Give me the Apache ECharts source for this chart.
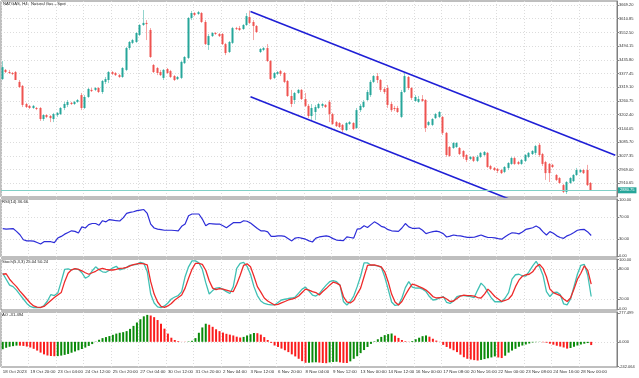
<!DOCTYPE html>
<html><head><meta charset="utf-8">
<script src="https://cdn.jsdelivr.net/npm/echarts@6/dist/echarts.min.js"></script>
<style>html,body{margin:0;padding:0;background:#fff}#c{width:639px;height:378px}</style>
</head><body><div id="c"></div>
<script>
const timeLabels = ["18 Oct 2023","19 Oct 20:00","23 Oct 04:00","24 Oct 12:00","25 Oct 20:00","27 Oct 04:00","30 Oct 12:00","31 Oct 20:00","2 Nov 04:00","3 Nov 12:00","6 Nov 20:00","8 Nov 04:00","9 Nov 12:00","13 Nov 00:00","14 Nov 12:00","16 Nov 00:00","17 Nov 08:00","20 Nov 16:00","22 Nov 00:00","23 Nov 08:00","24 Nov 16:00","28 Nov 00:00"];

const opens = [3354,3393,3384,3380,3384,3342,3325,3248,3240,3231,
3231,3231,3184,3201,3197,3184,3201,3205,3231,3244,
3253,3248,3257,3286,3231,3278,3308,3308,3316,3299,
3342,3350,3384,3380,3371,3363,3393,3486,3508,3512,
3542,3584,3593,3563,3414,3401,3384,3359,3397,3388,
3367,3354,3359,3422,3444,3614,3635,3631,3635,3597,
3499,3537,3550,3546,3546,3503,3469,3508,3571,3571,
3567,3584,3618,3597,3580,3469,3478,3486,3431,3359,
3376,3388,3380,3346,3282,3265,3295,3308,3269,3240,
3197,3214,3231,3240,3244,3257,3205,3171,3167,3159,
3137,3163,3167,3146,3222,3235,3265,3286,3342,3367,
3350,3312,3316,3248,3231,3231,3193,3299,3363,3316,
3261,3257,3269,3265,3159,3159,3188,3193,3193,3125,
3065,3061,3065,3061,3048,3031,3014,3023,3006,3023,
3031,3040,2984,2976,2972,2967,2959,2976,2993,3018,
3001,2993,3006,3023,3035,3040,3074,3035,3001,2993,
2989,2946,2933,2903,2874,2912,2920,2946,2959,2967,
2967,2912];
const closes = [3405,3384,3380,3376,3350,3320,3244,3235,3231,3240,
3227,3184,3201,3193,3188,3205,3210,3231,3248,3257,
3248,3257,3265,3231,3278,3312,3303,3316,3299,3346,
3354,3384,3376,3371,3363,3401,3486,3512,3520,3550,
3584,3593,3588,3448,3384,3380,3371,3393,3380,3363,
3350,3363,3427,3448,3614,3635,3627,3639,3597,3503,
3537,3550,3546,3537,3503,3465,3512,3571,3567,3563,
3584,3622,3593,3580,3554,3482,3486,3431,3354,3380,
3384,3376,3342,3282,3248,3295,3308,3269,3240,3197,
3231,3235,3248,3248,3235,3205,3163,3154,3150,3137,
3167,3171,3142,3222,3240,3257,3299,3342,3367,3350,
3308,3299,3244,3222,3227,3214,3299,3367,3316,3274,
3278,3269,3261,3146,3171,3184,3205,3214,3125,3031,
3027,3082,3082,3035,3023,3010,3023,3006,3023,3040,
3044,2980,2972,2967,2963,2954,2980,2997,3018,2993,
2993,3010,3031,3040,3048,3069,3031,2993,2954,2954,
2980,2925,2912,2874,2916,2933,2946,2967,2967,2954,
2903,2880.75];
const lows = [3350,3380,3376,3371,3350,3316,3235,3231,3227,3227,
3222,3176,3176,3188,3171,3171,3193,3201,3222,3235,
3244,3244,3253,3222,3227,3274,3299,3303,3295,3291,
3333,3337,3371,3367,3359,3359,3388,3478,3503,3508,
3537,3580,3520,3444,3380,3371,3367,3350,3376,3359,
3346,3350,3354,3418,3439,3605,3622,3627,3593,3499,
3478,3533,3542,3533,3499,3456,3465,3503,3563,3559,
3563,3580,3588,3520,3550,3465,3473,3427,3350,3354,
3371,3367,3337,3278,3235,3248,3291,3265,3235,3188,
3180,3180,3227,3231,3231,3171,3159,3150,3146,3129,
3133,3159,3137,3142,3214,3231,3261,3278,3337,3337,
3299,3291,3231,3214,3218,3210,3188,3295,3308,3265,
3257,3253,3257,3129,3154,3154,3184,3188,3116,3023,
3023,3057,3061,3031,3014,3001,3010,3001,3001,3018,
3027,2976,2967,2963,2954,2950,2954,2967,2989,2989,
2989,2989,3001,3018,3031,3031,3023,2984,2925,2916,
2976,2920,2908,2869,2865,2908,2916,2942,2954,2950,
2899,2878];
const highs = [3431,3397,3393,3384,3388,3350,3329,3253,3244,3244,
3235,3235,3205,3205,3201,3210,3214,3235,3257,3265,
3257,3261,3269,3295,3286,3316,3316,3320,3320,3350,
3363,3388,3388,3384,3376,3405,3491,3516,3525,3554,
3588,3648,3605,3571,3418,3405,3393,3397,3401,3393,
3371,3367,3431,3452,3618,3644,3639,3644,3639,3605,
3546,3554,3554,3550,3550,3508,3516,3576,3576,3580,
3588,3635,3644,3605,3584,3486,3491,3503,3435,3384,
3388,3393,3384,3350,3308,3299,3312,3312,3295,3248,
3248,3244,3253,3253,3248,3265,3210,3176,3171,3163,
3171,3176,3171,3231,3248,3265,3308,3350,3371,3380,
3354,3320,3329,3257,3240,3240,3308,3384,3367,3320,
3286,3282,3286,3269,3176,3188,3210,3218,3197,3129,
3069,3086,3086,3065,3052,3035,3027,3027,3031,3044,
3048,3044,2989,2980,2976,2972,2984,3001,3023,3023,
3006,3014,3035,3044,3052,3074,3082,3040,3006,2997,
2993,2950,2937,2908,2920,2937,2950,2976,2972,2972,
2989,2916];

const rsi = [49,48,48.5,49,44,38,29,27,27,26.5,
24,21.5,25.5,25.5,25.5,24,32,35,39,42,
45,44,41,52,50,56,58,58,55,63,
61,65,64,63,62.5,68,76,78,79,81,
82,83,76,57,50,48,47,46,46,46,
45.5,45,53,57,72,75,75,75,66,54,
58,57.5,57,57,54,50.5,55,59.5,59.5,59.5,
63,62,59,54,49,45,45,43,35,35,
36,36,35,31,27,32,33,31.6,30,27,
25,32,34,35,36,34.5,31,28.5,28,27.5,
34,33,32,48,49,54,51,56,61,57.5,
53,51,47,45,44.5,44,50,58,52,49.5,
49.5,50,46,40,42,43.5,44.5,43,40,34,
35.5,37.5,36.5,36,34.5,33.3,33.2,33.5,35.5,37.5,
35,33,33,32.5,31,30,34.5,38.5,41.5,41,
39.5,43,47.5,49,50.5,53.5,50,43,37.5,43.5,
40.5,36,33,31.6,36,38.5,42,46,47,47.5,
43,36.66];

const stochK = [72,60,48,45,38,29,20,11,5,2.5,
2.4,2.4,7,16,29,27,32,55,80,81,
78.6,81,80,73,62,66,77,85,79,75,
74,78,83,86,79,81,84,88,89,90,
94,92,75,30,12,4,2.4,6,12,20,
24,27,35,65,85,97,97,93,80,53,
30,37,42,43,39.5,35,31,45,82,92,
94,86,70,45,27,16,11,9,8,8,
13,18,19.5,21,22,24,32,40,44,36,
28,26,31,40,48,55,57,55,48,15,
8,15,26,45,66,93,93,88,88,87,
84,65,40,14,7,8,22,43,55,44,
42,42.5,40,35,25,18,19,22,25,13,
11,16,25,27,27,26,25,23,38,52,
45,33,22,14.5,14.5,14.5,22,33,60,69,
70,67,66,76,87,96,85,68,35,25,
33,34,29,10,8,20,45,70,88,90,
68,25.04];
const stochD = [70,71,60,52,45,36,28,20,12,6,
3.5,3.2,5,11,17,23,28,33,55,72,
79,81.5,80,77,73,70,73,76,80,82,
80,78.6,78.6,80,82,82.5,84,87,89.5,91,
92,91,89,55,30,14,5,3,6,11,
18,23,28,42,62,80,92,92,90,78,
57,42,39,41,40,38,36,35,50,68,
88,91,85,66,45,34,22,16,12,8,
9,12,15,18,20,22,26,33,40,38,
35,33,28,35,41,48,54,52,48,25,
14,12,17,30,42,65,88,89,88.7,87,
85,75,55,30,14,8,15,28,40,50,
48,45,42,38,32,25,22,23,24,20,
15,16,21,26,28,27,27,26,23,22,
30,40,33,25,20,15,17,20,28,45,
58,66,69,70,75,85,90,82,65,40,
33,30,27,20,15,22,40,60,72,87,
78,50.24];

const ao = [-72,-58,-48,-42,-37,-37.5,-40,-46,-55,-68,
-85,-105,-122,-133,-138,-140,-139,-134,-127,-118,
-106,-94,-82,-70,-56,-40,-22,3,20,36,
46,56,68,80,88,94,104,126,155,188,
220,248,262,256,240,212,176,128,80,40,
18,7,1,-2,4,10,36,88,140,176,
166,146,122,104,90,78,70,62,50,42,
48,62,74,86,84,70,46,18,-10,-36,
-50,-66,-82,-100,-122,-142,-165,-188,-204,-203,
-200,-199,-202,-206,-208,-200,-196,-194,-200,-205,
-206,-190,-165,-140,-110,-80,-50,-20,5,25,
48,65,75,81,60,38,18,6,2,8,
25,40,55,62,50,30,12,-2,-30,-50,
-66,-82,-100,-125,-150,-165,-172,-178,-182,-176,
-168,-160,-152,-142,-152,-158,-135,-105,-85,-68,
-48,-36,-26,-16,-6,-3,-2,-4,-8,-18,
-28,-38,-46,-55,-66,-60,-48,-36,-26,-18,
-12,-31.494];

const priceTicks = [3669.20,3610.85,3552.50,3494.15,3435.80,3377.45,3319.10,3260.75,3202.40,3144.05,3085.70,3027.35,2969.00,2910.65];
const rsiTicks = [100,70,30,0];
const rsiLevels = [70,30];
const stochTicks = [100,80,20,0];
const stochLevels = [80,20];
const aoTicks = [277.499,0,-242.064];
const aoLevels = [0];
const trendUpper = [[72,3642],[178,3030]];
const trendLower = [[72,3279],[178,2665]];

const LABEL_STEP = 8;
const EMPTY_SLOTS = 7;
const FONT = 'Liberation Sans';
const UP = '#26a69a', DN = '#ef5350', WICK_UP = '#93d5ce', WICK_DN = '#f5a5a4';
const GRIDC = '#dcdcdc', BORDER = '#7f7f7f';

const nBars = closes.length;
const categories = Array.from({length: nBars + EMPTY_SLOTS}, (_, i) => String(i));
const candleData = opens.map((o, i) => [i, o, closes[i], lows[i], highs[i]]);
const lastPrice = closes[nBars - 1];

const labelInterval = (idx) => idx % LABEL_STEP === 0 && (idx / LABEL_STEP) < timeLabels.length;

function xAxisFor(gi, showLabels) {
  return {
    type: 'category', gridIndex: gi, data: categories, boundaryGap: true,
    axisLine: {show: false}, axisTick: {show: false},
    axisLabel: showLabels ? {
      show: true, interval: labelInterval, align: 'left', margin: 3,
      fontSize: 4.4, color: '#333', fontFamily: FONT,
      formatter: (v, idx) => (idx % LABEL_STEP === 0 ? (timeLabels[idx / LABEL_STEP] || '') : '')
    } : {show: false},
    splitLine: {show: true, interval: labelInterval, lineStyle: {color: GRIDC, type: [1, 2], width: 1}}
  };
}
function yAxisFor(gi, min, max, ticks, digits) {
  return {
    type: 'value', gridIndex: gi, position: 'right', min, max, scale: true,
    axisLine: {show: true, lineStyle: {color: BORDER}},
    axisTick: {show: true, length: 2, customValues: ticks, lineStyle: {color: BORDER}},
    axisLabel: {show: true, customValues: ticks, margin: 2, fontSize: 4, color: '#333', fontFamily: FONT,
      formatter: (v) => Number(v).toFixed(digits)},
    splitLine: {show: false}
  };
}
function gridLines(levels) {
  return {
    symbol: 'none', silent: true, z: 1, animation: false,
    label: {show: false},
    lineStyle: {color: GRIDC, type: [1, 2], width: 1},
    data: levels.map(v => ({yAxis: v}))
  };
}
function helper(gi, levels) {
  return {
    type: 'line', xAxisIndex: gi, yAxisIndex: gi, data: [[0, levels[0]]], symbol: 'none',
    lineStyle: {opacity: 0}, silent: true, z: 1, markLine: gridLines(levels)
  };
}

function renderCandle(params, api) {
  const i = api.value(0);
  const o = api.value(1), c = api.value(2);
  const pO = api.coord([i, o]);
  const pC = api.coord([i, c]);
  const pL = api.coord([i, api.value(3)]);
  const pH = api.coord([i, api.value(4)]);
  const up = c >= o;
  const cx = Math.round(pO[0]) - 1;
  const top = Math.min(pO[1], pC[1]);
  const h = Math.max(Math.abs(pO[1] - pC[1]), 1);
  return {type: 'group', children: [
    {type: 'line', shape: {x1: cx + 0.5, y1: pH[1], x2: cx + 0.5, y2: pL[1]}, style: {stroke: up ? WICK_UP : WICK_DN, lineWidth: 1}},
    {type: 'rect', shape: {x: cx - 0.5, y: top, width: 2, height: h}, style: {fill: up ? UP : DN}}
  ]};
}

const gridBase = {left: 1, width: 616, show: true, borderColor: BORDER, borderWidth: 1, backgroundColor: '#fff', containLabel: false, outerBoundsMode: 'none'};
const chart = echarts.init(document.getElementById('c'), null, {renderer: 'canvas'});
const titleStyle = {fontSize: 4.2, fontWeight: 'normal', color: '#222', fontFamily: FONT};
chart.setOption({
  animation: false,
  backgroundColor: '#fff',
  title: [
    {text: 'NATGAS, H4:  Natural Gas - Spot', left: 3, top: 2, padding: 0, textStyle: titleStyle},
    {text: 'RSI(14) ' + rsi[nBars - 1].toFixed(2), left: 2, top: 200, padding: 0, textStyle: titleStyle},
    {text: 'Stoch(5,3,3) ' + stochK[nBars - 1].toFixed(2) + ' ' + stochD[nBars - 1].toFixed(2), left: 2, top: 260, padding: 0, textStyle: titleStyle},
    {text: 'AO ' + ao[nBars - 1].toFixed(3), left: 2, top: 313, padding: 0, textStyle: titleStyle}
  ],
  grid: [
    Object.assign({top: 1, height: 196}, gridBase),
    Object.assign({top: 199, height: 58}, gridBase),
    Object.assign({top: 259, height: 51}, gridBase),
    Object.assign({top: 312, height: 55}, gridBase)
  ],
  xAxis: [xAxisFor(0, false), xAxisFor(1, false), xAxisFor(2, false), xAxisFor(3, true)],
  yAxis: [
    yAxisFor(0, 2852.30, 3686.22, priceTicks, 2),
    yAxisFor(1, -1.79, 101.79, rsiTicks, 2),
    yAxisFor(2, -2.2, 100.8, stochTicks, 2),
    yAxisFor(3, -244.98, 290.15, aoTicks, 3)
  ],
  series: [
    helper(0, priceTicks),
    {
      type: 'custom', xAxisIndex: 0, yAxisIndex: 0, data: candleData,
      encode: {x: 0, y: [1, 2, 3, 4]}, renderItem: renderCandle, clip: true, z: 3, silent: true
    },
    {
      type: 'line', xAxisIndex: 0, yAxisIndex: 0, data: trendUpper, symbol: 'none', clip: true, z: 4, silent: true,
      lineStyle: {color: '#1f1fd6', width: 1.6},
      markLine: {
        symbol: 'none', silent: true, z: 6, animation: false,
        data: [{yAxis: lastPrice}],
        lineStyle: {color: '#7fcfc6', type: 'solid', width: 1},
        label: {show: true, position: 'end', distance: 1, formatter: () => lastPrice.toFixed(2),
          color: '#fff', backgroundColor: '#26a69a', padding: [1, 2, 1, 2], fontSize: 4, fontFamily: FONT}
      }
    },
    {
      type: 'line', xAxisIndex: 0, yAxisIndex: 0, data: trendLower, symbol: 'none', clip: true, z: 4, silent: true,
      lineStyle: {color: '#1f1fd6', width: 1.6}
    },
    helper(1, rsiLevels),
    {
      type: 'line', xAxisIndex: 1, yAxisIndex: 1, data: rsi, symbol: 'none', z: 3, silent: true,
      lineStyle: {color: '#2d2dd8', width: 1.2}
    },
    helper(2, stochLevels),
    {
      type: 'line', xAxisIndex: 2, yAxisIndex: 2, data: stochK, symbol: 'none', z: 3, silent: true,
      lineStyle: {color: '#40c0b4', width: 1.3}
    },
    {
      type: 'line', xAxisIndex: 2, yAxisIndex: 2, data: stochD, symbol: 'none', z: 4, silent: true,
      lineStyle: {color: '#ee2a2a', width: 1.3}
    },
    helper(3, aoLevels),
    {
      type: 'bar', xAxisIndex: 3, yAxisIndex: 3, barWidth: 2, z: 3, silent: true,
      data: ao.map((v, i) => ({value: v, itemStyle: {color: (i === 0 || v > ao[i - 1]) ? '#0a8a0a' : '#fb1d1d'}}))
    }
  ]
});
</script></body></html>
